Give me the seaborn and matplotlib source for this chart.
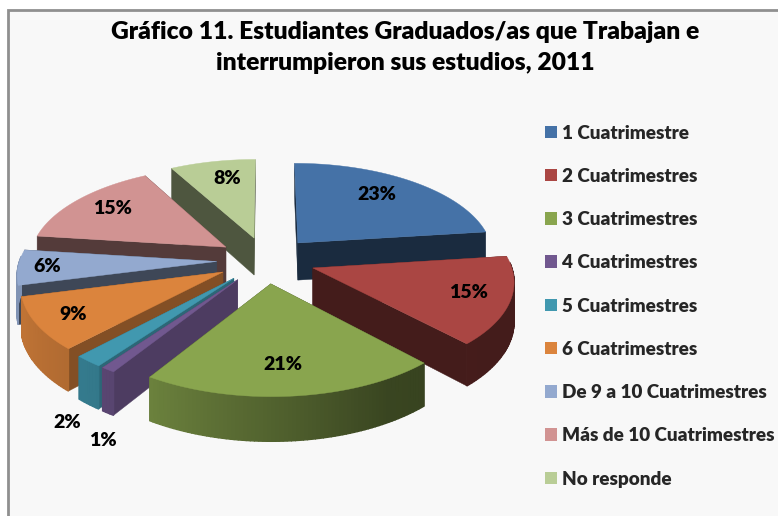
import numpy as np
import matplotlib
matplotlib.use("Agg")
import matplotlib.pyplot as plt
from matplotlib.patches import Patch, Rectangle
import seaborn as sns

categories = ["1 Cuatrimestre", "2 Cuatrimestres", "3 Cuatrimestres", "4 Cuatrimestres",
              "5 Cuatrimestres", "6 Cuatrimestres", "De 9 a 10 Cuatrimestres",
              "Más de 10 Cuatrimestres", "No responde"]
values = [23, 15, 21, 1, 2, 9, 6, 15, 8]
colors = ["#4572a7", "#aa4643", "#89a54e", "#71588f", "#4198af",
          "#db843d", "#93a9cf", "#d19392", "#b9cd96"]
wall_dark = [0.38, 0.40, 0.40, 0.68, 0.68, 0.60, 0.42, 0.40, 0.42]
title = "Gráfico 11. Estudiantes Graduados/as que Trabajan e\ninterrumpieron sus estudios, 2011"

sns.set_theme(style="white")
plt.rcParams["font.family"] = ["Lato", "DejaVu Sans"]
palette = sns.color_palette(colors)

# projection of the tilted pie, in pixels
cx, cy = 266, 260
rx, ry = 197, 93
persp = 0.12
height = 38
explode = 0.25


def project(x, y):
    s = 1 / (1 + persp * y)
    return cx + rx * x * s, cy - ry * y * s, height * s


def shade(color, f):
    return tuple(c * f for c in color)


def arc_shade(t):
    return np.interp(t, [130, 150, 212, 250], [0.40, 0.42, 0.78, 0.87])


fig = plt.figure(figsize=(7.78, 5.16), dpi=100, facecolor="white")
ax = fig.add_axes([0, 0, 1, 1])
ax.set_xlim(0, 778)
ax.set_ylim(516, 0)
ax.axis("off")

ax.add_patch(Rectangle((8.5, 9.5), 800, 600, facecolor="#f8f8f8", edgecolor="#8f8f8f", lw=2))

edges = np.cumsum([0] + values) * 3.6
mids = (edges[:-1] + edges[1:]) / 2
order = np.argsort(-np.cos(np.radians(mids)))

for i in order:
    col = palette[i]
    t0, t1, tm = edges[i], edges[i + 1], mids[i]
    ox = explode * np.sin(np.radians(tm))
    oy = explode * np.cos(np.radians(tm))
    ts = np.linspace(t0, t1, max(int(t1 - t0), 2) + 1)
    ax_, ay_, ah = project(ox, oy)
    px, py, ph = project(ox + np.sin(np.radians(ts)), oy + np.cos(np.radians(ts)))

    # radial walls
    wall = shade(col, wall_dark[i])
    for qx, qy, qh in [(px[0], py[0], ph[0]), (px[-1], py[-1], ph[-1])]:
        ax.fill([ax_, qx, qx, ax_], [ay_, qy, qy + qh, ay_ + ah], color=wall, lw=0.3)

    # outer wall, only the part facing the viewer
    for j in range(len(ts) - 1):
        tt = (ts[j] + ts[j + 1]) / 2
        if np.cos(np.radians(tt)) > 0.05:
            continue
        ax.fill([px[j], px[j + 1], px[j + 1], px[j]],
                [py[j], py[j + 1], py[j + 1] + ph[j + 1], py[j] + ph[j]],
                color=shade(col, arc_shade(tt)), lw=1.0)

    # top face
    ax.fill(np.r_[ax_, px], np.r_[ay_, py], color=col, lw=0.3)

labels = [f"{v}%" for v in values]
label_x = [377, 468, 283, 103, 67, 73, 47, 112, 227]
label_y = [194, 293, 365, 440, 422, 315, 266, 209, 179]
for lab, x, y in zip(labels, label_x, label_y):
    ax.text(x, y, lab, fontsize=14, fontweight=800, color="black", ha="center", va="center")

ax.text(405, 47.5, title, fontsize=17.7, fontweight=800, color="black",
        ha="center", va="center", linespacing=1.55)

handles = [Patch(facecolor=c, edgecolor="none") for c in palette]
ax.legend(handles, categories, loc="upper left", bbox_to_anchor=(537 / 778, 1 - 117 / 516),
          frameon=False, prop={"size": 13.6, "weight": 800, "family": "Lato"},
          handlelength=0.64, handleheight=0.64, handletextpad=0.27, labelspacing=1.39,
          borderpad=0.4, borderaxespad=0)

plt.savefig("out.png", dpi=100)
plt.close()
